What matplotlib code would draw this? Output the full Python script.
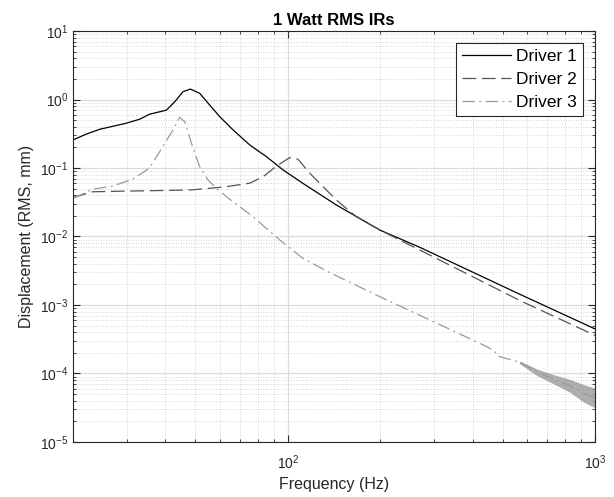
import numpy as np
import matplotlib
matplotlib.use("Agg")
import matplotlib.pyplot as plt
from matplotlib.ticker import FixedLocator, NullFormatter

plt.rcParams['font.family'] = ['Liberation Sans', 'DejaVu Sans']
plt.rcParams['mathtext.fontset'] = 'custom'
plt.rcParams['mathtext.rm'] = 'Liberation Sans'
plt.rcParams['mathtext.default'] = 'regular'

# data ------------------------------------------------------------------
d1_freq = [20, 22, 24.4, 29.7, 32.9, 35.5, 40.3, 42.9, 45.6, 48.2, 51.7, 55.7,
           60.1, 66.4, 75.2, 85.3, 96.6, 112, 144, 199.5, 269, 570, 1000]
d1_disp = [0.257, 0.31, 0.367, 0.449, 0.514, 0.61, 0.70, 0.93, 1.30, 1.42, 1.23,
           0.83, 0.56, 0.359, 0.217, 0.146, 0.0935, 0.0597, 0.0288, 0.0124,
           0.00695, 0.00143, 0.000447]

d2_freq = [20, 23.2, 30, 40, 49, 62.4, 75.2, 83.1, 92, 101.5, 108, 118, 144,
           167, 199.5, 215, 262, 570, 1000]
d2_disp = [0.037, 0.045, 0.046, 0.047, 0.048, 0.053, 0.06, 0.0746, 0.107, 0.142,
           0.134, 0.0835, 0.034, 0.0195, 0.0124, 0.0105, 0.00673, 0.00116, 0.00036]

d3_freq = [20, 23.2, 26.9, 31.3, 35.4, 39.2, 42.3, 44.5, 46.2, 48.6, 51.7, 55,
           58.6, 63.2, 77, 94.2, 112, 137, 199.5, 290, 422, 467, 483, 570, 646,
           731, 829, 917, 1000]
d3_disp = [0.036, 0.049, 0.0546, 0.0684, 0.099, 0.205, 0.36, 0.55, 0.474, 0.229,
           0.104, 0.0668, 0.0506, 0.038, 0.0195, 0.0089, 0.0048, 0.00297, 0.00132,
           6.04e-4, 2.75e-4, 2.2e-4, 1.8e-4, 1.45e-4, 1.05e-4, 8.3e-5, 6.6e-5,
           5.1e-5, 4.4e-5]

# noisy tail of driver 3 (band envelope)
tail_freq = [570, 646, 731, 829, 917, 1000]
tail_hi = [1.5e-4, 1.15e-4, 9.5e-5, 8.1e-5, 6.8e-5, 6.0e-5]
tail_lo = [1.4e-4, 9.5e-5, 7.2e-5, 5.4e-5, 3.9e-5, 3.2e-5]

# axis ticks
y_decades = [1e-5, 1e-4, 1e-3, 1e-2, 1e-1, 1e0, 1e1]
x_decades = [100, 1000]

# plot ------------------------------------------------------------------
fig = plt.figure(figsize=(6.14, 4.97), dpi=100)
ax = fig.add_axes([0.1189, 0.1107, 0.8502, 0.8269])

ax.plot(d1_freq, d1_disp, color='black', lw=0.9, label='Driver 1')
ax.plot(d2_freq, d2_disp, color='#555555', lw=0.9, ls=(0, (11, 4.5)), label='Driver 2')
ax.plot(d3_freq, d3_disp, color='#9a9a9a', lw=0.9, ls=(0, (10, 3.5, 1.5, 3.5)), label='Driver 3')
ax.fill_between(tail_freq, tail_lo, tail_hi, color='#a0a0a0', alpha=0.85, lw=0.5)

ax.set_xscale('log')
ax.set_yscale('log')
ax.set_xlim(20, 1000)
ax.set_ylim(1e-5, 10)

ax.set_yticks(y_decades)
ax.set_xticks(x_decades)
y_minor = [m * d for d in y_decades[:-1] for m in range(2, 10)]
x_minor = [m * d for d in [10, 100] for m in range(2, 10) if 20 <= m * d < 1000]
ax.yaxis.set_minor_locator(FixedLocator(y_minor))
ax.xaxis.set_minor_locator(FixedLocator(x_minor))
ax.yaxis.set_minor_formatter(NullFormatter())
ax.xaxis.set_minor_formatter(NullFormatter())

ax.grid(which='major', color='#dcdcdc', lw=0.9, ls='-')
ax.grid(which='minor', color='#c8c8c8', lw=0.6, ls=(0, (1, 2)))
ax.set_axisbelow(True)

ax.tick_params(which='both', direction='in', top=True, right=True, colors='#262626',
               labelsize=10, labelcolor='#262626')
ax.tick_params(which='major', length=5, width=0.8)
ax.tick_params(which='minor', length=2.5, width=0.6)
ax.tick_params(axis='x', pad=8)
for s in ax.spines.values():
    s.set_color('#262626')
    s.set_linewidth(0.8)

ax.set_title('1 Watt RMS IRs', fontsize=12, fontweight='bold', pad=4)
ax.set_xlabel('Frequency (Hz)', fontsize=11.5, color='#262626')
ax.set_ylabel('Displacement (RMS, mm)', fontsize=11.5, color='#262626')

leg = ax.legend(loc='upper right', fontsize=12.5, fancybox=False, framealpha=1,
                edgecolor='#262626', borderaxespad=0.7, handlelength=2.8,
                handletextpad=0.3, borderpad=0.35, labelspacing=0.45)
leg.get_frame().set_linewidth(0.8)

fig.savefig('out.png', dpi=100)
